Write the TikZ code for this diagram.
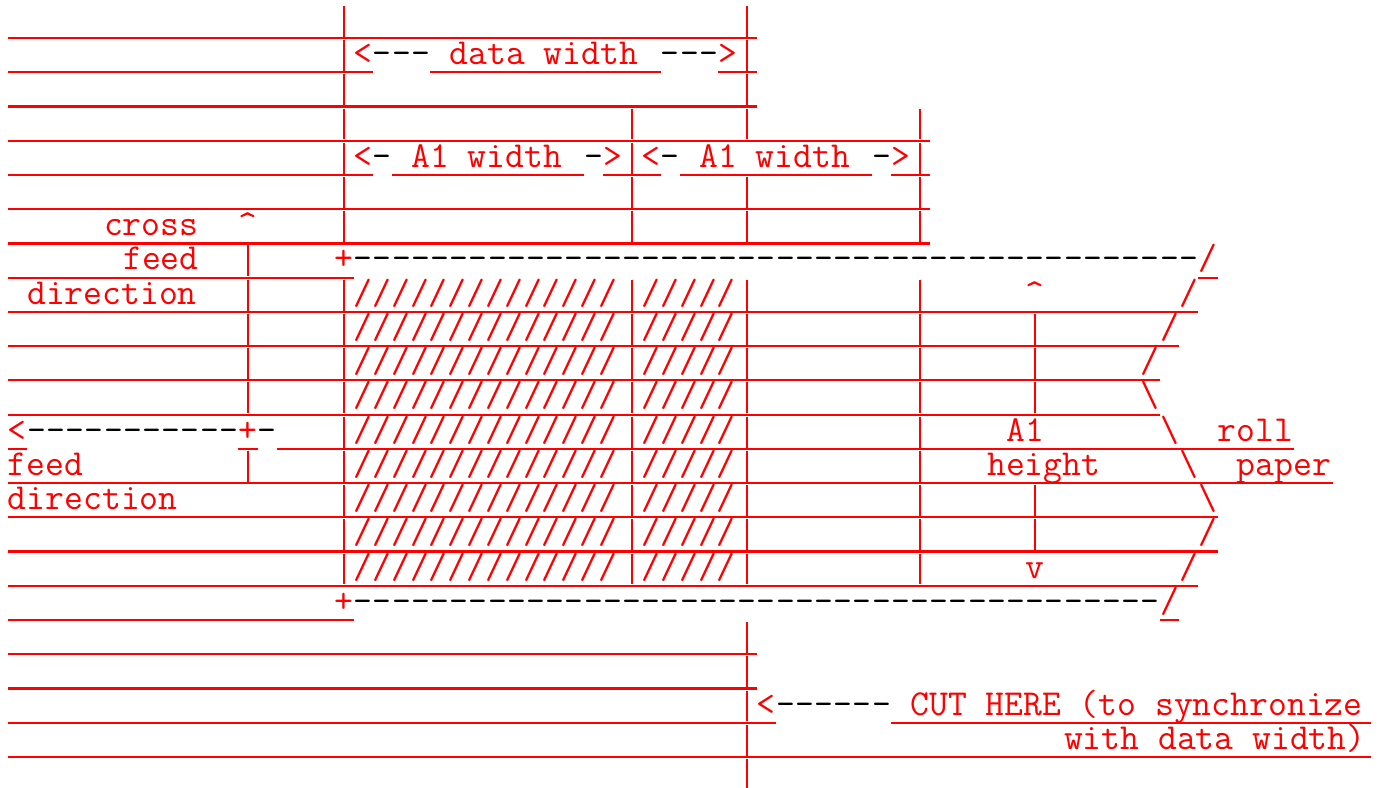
\documentclass[tikz,border=0pt]{standalone}
\usepackage{tikz}

\newcommand{\asciifont}{\ttfamily\fontsize{18.29pt}{20pt}\selectfont}

\tikzset{
  txt/.style={anchor=base west, inner sep=0pt, outer sep=0pt, text=red, font=\asciifont},
  hyph/.style={txt, text=black},
  pipe/.style={draw=red, line width=0.85pt},
  uline/.style={draw=red, line width=1.1pt},
}

\begin{document}
\begin{tikzpicture}[x=9.6pt, y=-17.12pt]

    % Page
    \fill[white] (-0.4167,-0.1098) rectangle (71.8233,22.904);
    \useasboundingbox (-0.4167,-0.1098) rectangle (71.8233,22.904);

    % Underlines (row/from/to)
    \foreach \r/\a/\b in {0/0/39, 1/0/19, 1/22/34, 1/37/39, 2/0/39, 3/0/48,
        4/0/19, 4/20/30, 4/31/34, 4/35/45, 4/46/48, 5/0/48, 6/0/48,
        7/0/18, 7/62/63, 8/0/62, 9/0/61, 10/0/60, 11/0/60,
        12/0/1, 12/12/13, 12/14/67, 13/0/69, 14/0/63, 15/0/63, 16/0/62,
        17/0/18, 17/60/61, 18/0/39, 19/0/39, 20/0/40, 20/46/71, 21/0/71}
      \draw[uline] (\a,\r+1) -- (\b,\r+1);

    % Pipes
    \foreach \r in {0,1,2,3,4,5,6,8,9,10,11,12,13,14,15,16}
      \draw[pipe] (17.5,\r+0.06) -- (17.5,\r+0.96);
    \foreach \r in {0,1,2,3,5,6,8,9,10,11,12,13,14,15,16,18,19,20,21,22}
      \draw[pipe] (38.5,\r+0.06) -- (38.5,\r+0.96);
    \foreach \r in {3,4,5,6,8,9,10,11,12,13,14,15,16} {
      \draw[pipe] (32.5,\r+0.06) -- (32.5,\r+0.96);
      \draw[pipe] (47.5,\r+0.06) -- (47.5,\r+0.96);
    }
    \foreach \r in {7,8,9,10,11,13}
      \draw[pipe] (12.5,\r+0.06) -- (12.5,\r+0.96);
    \foreach \r in {9,10,11,14,15}
      \draw[pipe] (53.5,\r+0.06) -- (53.5,\r+0.96);

    % Dashes
    \foreach \c in {19,20,21,34,35,36} \node[hyph] (dw\c) at (\c,1.775) {-};
    \foreach \c in {19,30,34,45} \node[hyph] (aw\c) at (\c,4.775) {-};
    \foreach \c in {18,...,61} \node[hyph] (topedge\c) at (\c,7.775) {-};
    \foreach \c in {1,...,11,13} \node[hyph] (feedarr\c) at (\c,12.775) {-};
    \foreach \c in {18,...,59} \node[hyph] (botedge\c) at (\c,17.775) {-};
    \foreach \c in {40,...,45} \node[hyph] (cutarr\c) at (\c,20.775) {-};

    % Data width
    \node[txt] (dwl) at (18,1.775) {<};
    \node[txt] (dw)  at (23,1.775) {data width};
    \node[txt] (dwr) at (37,1.775) {>};

    % A1 widths
    \node[txt] (awl1) at (18,4.775) {<};
    \node[txt] (aw1)  at (21,4.775) {A1 width};
    \node[txt] (awr1) at (31,4.775) {>};
    \node[txt] (awl2) at (33,4.775) {<};
    \node[txt] (aw2)  at (36,4.775) {A1 width};
    \node[txt] (awr2) at (46,4.775) {>};

    % Cross feed direction
    \node[txt] (cross) at (5,6.775)  {cross};
    \node[txt] (cfup)  at (12,6.775) {\textasciicircum};
    \node[txt] (cfeed) at (6,7.775)  {feed};
    \node[txt] (cdir)  at (1,8.775)  {direction};

    % Sheet corners
    \node[txt] (ctop) at (17,7.775)  {+};
    \node[txt] (cbot) at (17,17.775) {+};

    % Hatched area
    \foreach \r in {8,...,16} {
      \node[txt] (hatcha\r) at (18,\r+0.775) {//////////////};
      \node[txt] (hatchb\r) at (33,\r+0.775) {/////};
    }

    % A1 height
    \node[txt] (ahup) at (53,8.775)  {\textasciicircum};
    \node[txt] (ah1)  at (52,12.775) {A1};
    \node[txt] (ah2)  at (51,13.775) {height};
    \node[txt] (ahdn) at (53,16.775) {v};

    % Roll paper edge
    \node[txt] (e7)  at (62,7.775)  {/};
    \node[txt] (e8)  at (61,8.775)  {/};
    \node[txt] (e9)  at (60,9.775)  {/};
    \node[txt] (e10) at (59,10.775) {/};
    \node[txt] (e11) at (59,11.775) {\textbackslash};
    \node[txt] (e12) at (60,12.775) {\textbackslash};
    \node[txt] (e13) at (61,13.775) {\textbackslash};
    \node[txt] (e14) at (62,14.775) {\textbackslash};
    \node[txt] (e15) at (62,15.775) {/};
    \node[txt] (e16) at (61,16.775) {/};
    \node[txt] (e17) at (60,17.775) {/};
    \node[txt] (roll)  at (63,12.775) {roll};
    \node[txt] (paper) at (64,13.775) {paper};

    % Feed direction
    \node[txt] (fdl)   at (0,12.775)  {<};
    \node[txt] (fdx)   at (12,12.775) {+};
    \node[txt] (ffeed) at (0,13.775)  {feed};
    \node[txt] (fdir)  at (0,14.775)  {direction};

    % Cut here
    \node[txt] (cutl) at (39,20.775) {<};
    \node[txt] (cut1) at (47,20.775) {CUT HERE (to synchronize};
    \node[txt] (cut2) at (55,21.775) {with data width)};

\end{tikzpicture}
\end{document}
